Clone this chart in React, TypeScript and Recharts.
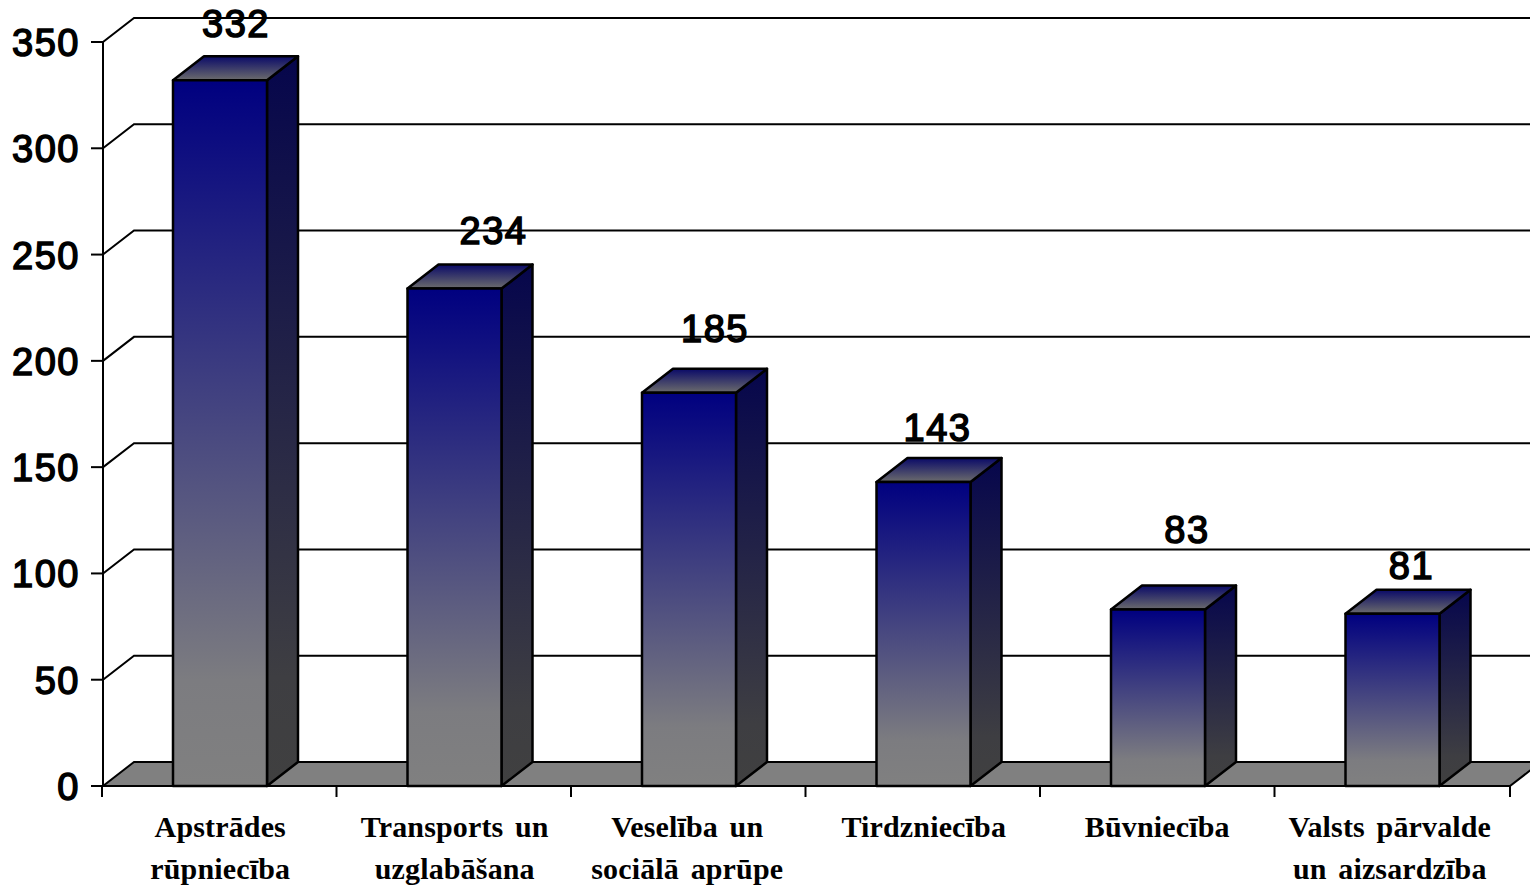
import { BarChart, Bar, XAxis, YAxis, LabelList, ReferenceLine } from "recharts";

const categories = [
  "Apstrādes\nrūpniecība",
  "Transports un\nuzglabāšana",
  "Veselība un\nsociālā aprūpe",
  "Tirdzniecība",
  "Būvniecība",
  "Valsts pārvalde\nun aizsardzība",
];
const values = [332, 234, 185, 143, 83, 81];
const yTicks = [0, 50, 100, 150, 200, 250, 300, 350];

// the value labels sit at uneven spots in the original
const labelDx = [16, 39, 26, 14, 29, 19];
const labelDy = [-33, -35, -41, -31, -57, -25];
const xLabelDx = [0, 0, -2, 0, -1, -3];

const data = categories.map((category, i) => ({ category, value: values[i] }));

const DEPTH_X = 31;
const DEPTH_Y = 24;
const BAND = 234.5;
const CHART_W = 1530;
const STROKE = "#000";

function WallLine({ x1, y1 }: any) {
  return (
    <path
      d={`M${x1},${y1} L${x1 + DEPTH_X},${y1 - DEPTH_Y} L${CHART_W},${y1 - DEPTH_Y}`}
      fill="none"
      stroke={STROKE}
      strokeWidth={2}
    />
  );
}

function Floor({ x1, x2, y1 }: any) {
  return (
    <polygon
      points={`${x1},${y1} ${x1 + DEPTH_X},${y1 - DEPTH_Y} ${x2 + DEPTH_X},${y1 - DEPTH_Y} ${x2},${y1}`}
      fill="#808080"
      stroke={STROKE}
      strokeWidth={2}
    />
  );
}

function YTick({ x, y, payload }: any) {
  return (
    <g>
      <line x1={x - 12} x2={x} y1={y} y2={y} stroke={STROKE} strokeWidth={2} />
      <text
        x={x - 23}
        y={y + 14}
        textAnchor="end"
        fontFamily="Liberation Sans"
        fontSize={38}
        letterSpacing={1.5}
        fill="#000"
        stroke="#000"
        strokeWidth={1.5}
      >
        {payload.value}
      </text>
    </g>
  );
}

function XTick({ x, y, payload, index }: any) {
  const lines: string[] = String(payload.value).split("\n");
  return (
    <g>
      <line x1={x - BAND / 2 - 1} x2={x - BAND / 2 - 1} y1={y} y2={y + 11} stroke={STROKE} strokeWidth={2} />
      {index === categories.length - 1 && (
        <line x1={x + BAND / 2} x2={x + BAND / 2} y1={y} y2={y + 11} stroke={STROKE} strokeWidth={2} />
      )}
      {lines.map((line, i) => (
        <text
          key={line}
          x={x + xLabelDx[index]}
          y={y + 51 + i * 42}
          textAnchor="middle"
          fontFamily="Liberation Serif"
          fontWeight="bold"
          fontSize={30}
          letterSpacing={0.15}
          wordSpacing={4}
          fill="#000"
        >
          {line}
        </text>
      ))}
    </g>
  );
}

function Bar3D({ x, y, width, height }: any) {
  const r = x + width;
  const b = y + height;
  return (
    <g stroke={STROKE} strokeWidth={2.5} strokeLinejoin="round">
      <polygon
        points={`${r},${y} ${r + DEPTH_X},${y - DEPTH_Y} ${r + DEPTH_X},${b - DEPTH_Y} ${r},${b}`}
        fill="url(#barSide)"
      />
      <polygon
        points={`${x},${y} ${x + DEPTH_X},${y - DEPTH_Y} ${r + DEPTH_X},${y - DEPTH_Y} ${r},${y}`}
        fill="url(#barTop)"
      />
      <rect x={x} y={y} width={width} height={height} fill="url(#barFront)" />
    </g>
  );
}

function ValueLabel({ x, y, width, value, index }: any) {
  return (
    <text
      x={x + width / 2 + labelDx[index]}
      y={y - DEPTH_Y + labelDy[index] + 14}
      textAnchor="middle"
      fontFamily="Liberation Sans"
      fontSize={38}
      letterSpacing={1.5}
      fill="#000"
      stroke="#000"
      strokeWidth={1.5}
    >
      {value}
    </text>
  );
}

export default function App() {
  return (
    <div style={{ position: "absolute", left: 0, top: 0, width: 1530, height: 886, background: "#fff", overflow: "hidden" }}>
      <BarChart
        width={1530}
        height={886}
        data={data}
        margin={{ top: 42, right: 20, left: 0, bottom: 0 }}
        barCategoryGap={0}
      >
        <defs>
          <linearGradient id="barFront" x1="0" y1="0" x2="0" y2="1">
            <stop offset="0" stopColor="#000080" />
            <stop offset="0.85" stopColor="#7c7c80" />
            <stop offset="1" stopColor="#808080" />
          </linearGradient>
          <linearGradient id="barSide" x1="0" y1="0" x2="0" y2="1">
            <stop offset="0" stopColor="#06064c" />
            <stop offset="0.85" stopColor="#3e3e42" />
            <stop offset="1" stopColor="#404040" />
          </linearGradient>
          <linearGradient id="barTop" x1="0" y1="0" x2="0" y2="1">
            <stop offset="0" stopColor="#0a0a68" />
            <stop offset="1" stopColor="#6c6c6c" />
          </linearGradient>
        </defs>
        <YAxis
          width={103}
          domain={[0, 350]}
          ticks={yTicks}
          tick={<YTick />}
          tickSize={0}
          tickMargin={0}
          tickLine={false}
          axisLine={{ stroke: STROKE, strokeWidth: 2 }}
          interval={0}
        />
        <XAxis
          dataKey="category"
          height={100}
          tick={<XTick />}
          tickSize={0}
          tickMargin={0}
          tickLine={false}
          axisLine={{ stroke: STROKE, strokeWidth: 2 }}
          interval={0}
        />
        {yTicks.map((t) => (
          <ReferenceLine key={t} y={t} zIndex={100} shape={t === 0 ? <Floor /> : <WallLine />} />
        ))}
        <Bar dataKey="value" barSize={94} shape={<Bar3D />} isAnimationActive={false}>
          <LabelList dataKey="value" content={<ValueLabel />} />
        </Bar>
      </BarChart>
    </div>
  );
}
